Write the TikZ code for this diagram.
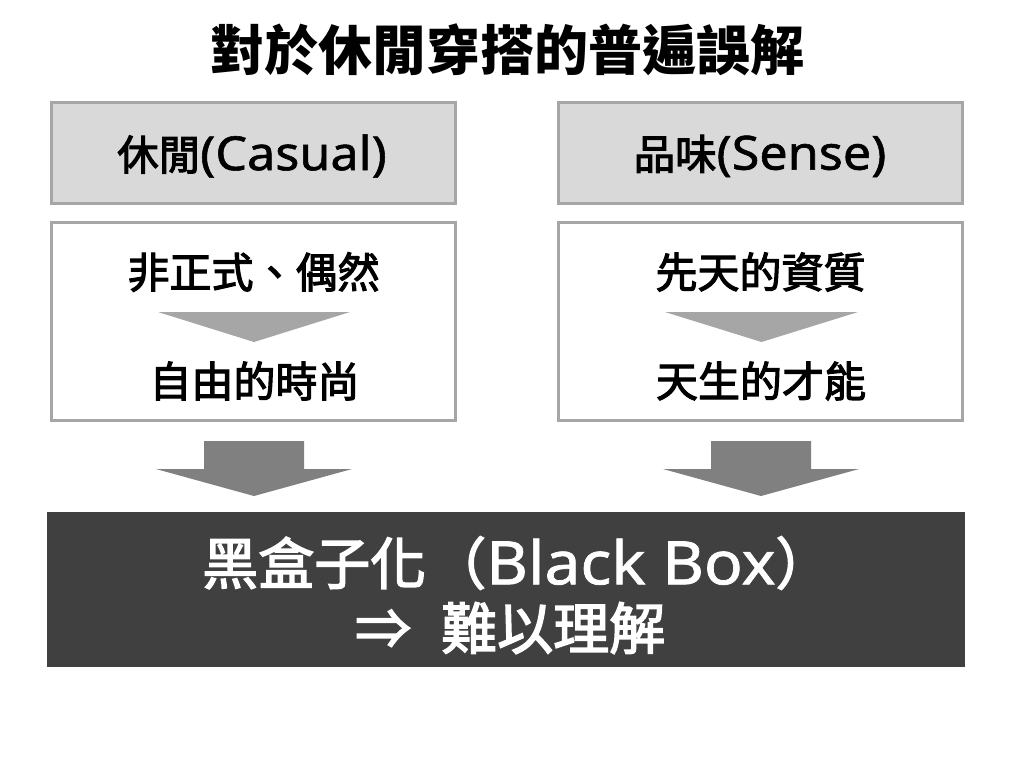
\documentclass[tikz,border=0pt]{standalone}
\usepackage{fontspec}
\setmainfont{Noto Sans CJK TC}
\newfontfamily\cjkm{Noto Sans CJK TC}[FakeBold=2.6]
\newfontfamily\latm{Noto Sans}[FakeBold=1.2,FakeStretch=1.07]
\usetikzlibrary{positioning}
\definecolor{hdrfill}{HTML}{D9D9D9}
\definecolor{boxline}{HTML}{A6A6A6}
\definecolor{tri}{HTML}{A6A6A6}
\definecolor{bigarrow}{HTML}{808080}
\definecolor{darkbox}{HTML}{404040}
\newcommand{\hlat}[1]{{\latm\fontsize{47}{50}\selectfont #1}}
\newcommand{\blat}[1]{{\latm\fontsize{60}{62}\selectfont #1}}
\tikzset{
  hdrbox/.style={draw=boxline, line width=3pt, fill=hdrfill, minimum width=404pt, minimum height=101pt, inner sep=0pt},
  bodybox/.style={draw=boxline, line width=3pt, fill=white, minimum width=404pt, minimum height=198pt, inner sep=0pt},
  hdrtext/.style={font=\cjkm\fontsize{41.5}{44}\selectfont, inner sep=0pt},
  bodytext/.style={font=\cjkm\fontsize{42}{48}\selectfont, inner sep=0pt},
  bottomtext/.style={font=\cjkm\fontsize{56}{64}\selectfont, text=white, inner sep=0pt},
  arrowfill/.style={fill=bigarrow},
}
\begin{document}
\begin{tikzpicture}[x=1pt,y=-1pt]
\useasboundingbox (0,0) rectangle (1024,769);
\fill[white] (0,0) rectangle (1024,769);
% title
\node[font=\fontsize{54}{60}\selectfont\bfseries, inner sep=0pt] (title) at (507,50) {對於休閒穿搭的普遍誤解};
% headers
\node[hdrbox] (hdrL) at (253.5,153) {};
\node[hdrtext] (hdrLt) at (252,156) {休閒\hlat{(Casual)}};
\node[hdrbox] (hdrR) at (760.5,153) {};
\node[hdrtext] (hdrRt) at (760,156) {品味\hlat{(Sense)}};
% bodies
\node[bodybox] (bodyL) at (253.5,321.5) {};
\node[bodybox] (bodyR) at (760.5,321.5) {};
\node[bodytext] (l1) at (253.5,272) {非正式、偶然};
\node[bodytext] (l2) at (254.5,381) {自由的時尚};
\node[bodytext] (r1) at (760.5,272) {先天的資質};
\node[bodytext] (r2) at (761,381) {天生的才能};
% inner triangles
\fill[tri] (158,312) -- (350,312) -- (254,342) -- cycle;
\fill[tri] (665,312) -- (858,312) -- (761.5,342) -- cycle;
% bottom box
\node[fill=darkbox, minimum width=918pt, minimum height=155pt, inner sep=0pt] (bottom) at (506,589.5) {};
\node[bottomtext, anchor=west] (b1) at (202,563) {黑盒子化\hspace{4pt}（\blat{Black Box}）};
\node[bottomtext, anchor=west] (b2) at (355,628) {⇒\hspace{30pt}難以理解};
% big arrows
\coordinate (aL) at ([xshift=0.5pt]bodyL.south);
\coordinate (aR) at ([xshift=0.5pt]bodyR.south);
\foreach \a in {aL,aR}{
\fill[arrowfill] ([xshift=-50pt,yshift=-19pt]\a) -- ([xshift=50pt,yshift=-19pt]\a) -- ([xshift=50pt,yshift=-47pt]\a)
  -- ([xshift=98pt,yshift=-47pt]\a) -- ([yshift=-74pt]\a) -- ([xshift=-98pt,yshift=-47pt]\a) -- ([xshift=-50pt,yshift=-47pt]\a) -- cycle;
}
\end{tikzpicture}
\end{document}
